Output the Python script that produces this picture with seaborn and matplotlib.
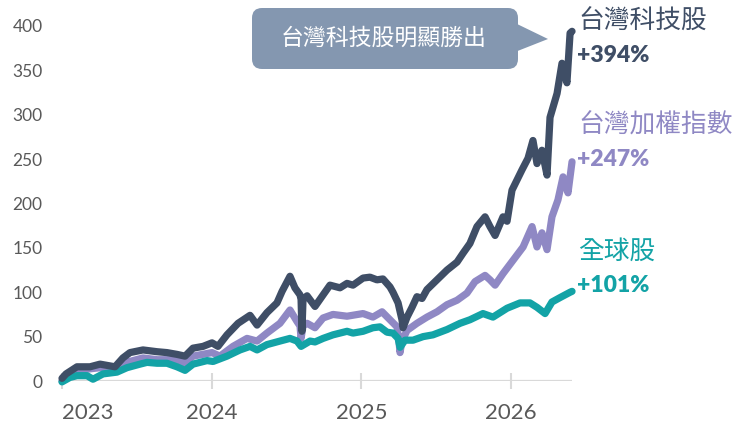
import numpy as np
import pandas as pd
import matplotlib
matplotlib.use("Agg")
import matplotlib.pyplot as plt
import seaborn as sns
from matplotlib.patches import FancyBboxPatch, Polygon
from matplotlib.transforms import IdentityTransform

# ---------------- data (cumulative return, %) ----------------
tech_name = "台灣科技股"
tech_t = [2023.000, 2023.027, 2023.100, 2023.187, 2023.254, 2023.321, 2023.354, 2023.407,
          2023.454, 2023.541, 2023.635, 2023.701, 2023.768, 2023.822, 2023.875, 2023.942,
          2024.002, 2024.042, 2024.102, 2024.176, 2024.256, 2024.303, 2024.369, 2024.436,
          2024.470, 2024.523, 2024.556, 2024.590, 2024.597, 2024.603, 2024.610, 2024.637,
          2024.690, 2024.744, 2024.790, 2024.857, 2024.904, 2024.944, 2025.011, 2025.057,
          2025.104, 2025.144, 2025.191, 2025.211, 2025.245, 2025.271, 2025.278, 2025.305,
          2025.338, 2025.371, 2025.405, 2025.438, 2025.505, 2025.572, 2025.639, 2025.679,
          2025.725, 2025.772, 2025.826, 2025.859, 2025.893, 2025.946, 2025.973, 2026.006,
          2026.073, 2026.113, 2026.146, 2026.173, 2026.206, 2026.240, 2026.260, 2026.307,
          2026.340, 2026.373, 2026.394, 2026.407]
tech_v = [3, 8, 16, 16, 19, 17, 16, 26,
          32, 35, 33, 32, 30, 28, 37, 39,
          43, 39, 52, 65, 74, 63, 77, 88,
          101, 118, 105, 97, 92, 56, 92, 96,
          84, 97, 108, 105, 110, 108, 116, 117,
          114, 115, 106, 100, 88, 69, 60, 72,
          83, 95, 93, 103, 114, 125, 134, 144,
          155, 174, 185, 174, 164, 185, 180, 215,
          238, 251, 271, 245, 260, 232, 297, 324,
          358, 336, 392, 394]

taiex_name = "台灣加權指數"
taiex_t = [2023.000, 2023.027, 2023.100, 2023.254, 2023.341, 2023.407, 2023.541, 2023.635,
           2023.768, 2023.822, 2023.875, 2024.002, 2024.055, 2024.142, 2024.236, 2024.303,
           2024.369, 2024.456, 2024.523, 2024.570, 2024.590, 2024.597, 2024.610, 2024.637,
           2024.690, 2024.744, 2024.810, 2024.904, 2025.011, 2025.077, 2025.138, 2025.191,
           2025.238, 2025.251, 2025.258, 2025.271, 2025.305, 2025.371, 2025.438, 2025.505,
           2025.572, 2025.639, 2025.705, 2025.759, 2025.826, 2025.859, 2025.893, 2025.946,
           2026.013, 2026.080, 2026.140, 2026.173, 2026.206, 2026.240, 2026.273, 2026.313,
           2026.347, 2026.380, 2026.407]
taiex_v = [0, 5, 12, 15, 14, 20, 26, 24,
           24, 20, 28, 32, 28, 39, 48, 45,
           54, 65, 80, 67, 62, 48, 62, 65,
           60, 71, 75, 73, 76, 72, 78, 69,
           61, 45, 32, 45, 57, 65, 72, 78,
           86, 91, 99, 112, 119, 114, 108, 121,
           136, 151, 174, 151, 167, 148, 185, 204,
           230, 212, 247]

global_name = "全球股"
global_t = [2023.000, 2023.053, 2023.100, 2023.167, 2023.207, 2023.274, 2023.367, 2023.434,
            2023.521, 2023.568, 2023.635, 2023.701, 2023.768, 2023.822, 2023.875, 2023.969,
            2024.009, 2024.102, 2024.189, 2024.256, 2024.303, 2024.369, 2024.456, 2024.523,
            2024.570, 2024.597, 2024.657, 2024.690, 2024.744, 2024.810, 2024.904, 2024.944,
            2025.011, 2025.077, 2025.124, 2025.171, 2025.211, 2025.245, 2025.258, 2025.291,
            2025.345, 2025.412, 2025.478, 2025.572, 2025.659, 2025.725, 2025.812, 2025.879,
            2025.973, 2026.060, 2026.126, 2026.173, 2026.227, 2026.273, 2026.327, 2026.394,
            2026.407]
global_v = [-1, 4, 6, 6, 2, 8, 10, 15,
            19, 21, 20, 20, 16, 12, 19, 23,
            22, 28, 35, 39, 35, 41, 45, 48,
            45, 39, 45, 44, 48, 52, 56, 54,
            56, 60, 61, 55, 54, 48, 38, 46,
            46, 50, 52, 58, 65, 69, 76, 72,
            82, 88, 88, 83, 76, 89, 94, 100,
            101]

series_names = [tech_name, taiex_name, global_name]
series_returns = ["+394%", "+247%", "+101%"]
series_colors = ["#3F4E66", "#8F88C4", "#13A3A6"]
year_ticks = [2023, 2024, 2025, 2026]
year_labels = ["2023", "2024", "2025", "2026"]
y_ticks = [0, 50, 100, 150, 200, 250, 300, 350, 400]
callout_text = "台灣科技股明顯勝出"

# ---------------- style ----------------
sns.set_theme(style="white")
plt.rcParams["font.family"] = ["Lato", "Noto Sans CJK TC", "DejaVu Sans"]
plt.rcParams["lines.solid_capstyle"] = "round"
plt.rcParams["lines.solid_joinstyle"] = "round"
CJK = ["Noto Sans CJK TC", "DejaVu Sans"]
GREY = "#595959"

W, H = 738, 426
fig = plt.figure(figsize=(W / 100, H / 100), dpi=100)
ax = fig.add_axes([62 / W, (H - 381) / H, 510 / W, 355 / H])

df = pd.concat([
    pd.DataFrame({"t": tech_t, "v": tech_v, "s": tech_name}),
    pd.DataFrame({"t": taiex_t, "v": taiex_v, "s": taiex_name}),
    pd.DataFrame({"t": global_t, "v": global_v, "s": global_name}),
], ignore_index=True)

palette = dict(zip(series_names, series_colors))
sns.lineplot(data=df, x="t", y="v", hue="s",
             hue_order=[taiex_name, global_name, tech_name],
             palette=palette, linewidth=5.2, legend=False,
             estimator=None, ax=ax)
for ln in ax.lines:
    ln.set_clip_on(False)

ax.set_xlim(2023, 2023 + 510 / 149.7)
ax.set_ylim(0, 400)
for sp in ax.spines.values():
    sp.set_visible(False)
ax.axhline(0, color="#D9D9D9", lw=1.6, zorder=0.5)
ax.set_xlabel("")
ax.set_ylabel("")

ax.set_yticks(y_ticks)
ax.set_yticklabels([str(v) for v in y_ticks])
ax.tick_params(axis="y", left=False, length=0, pad=14, labelsize=12.5, labelcolor=GREY)

ax.set_xticks(year_ticks)
ax.set_xticklabels(year_labels)
ax.tick_params(axis="x", bottom=True, direction="inout", length=12, width=1.5,
               color="#D9D9D9", labelsize=16, labelcolor=GREY, pad=10)
ax.get_xticklabels()[0].set_horizontalalignment("left")

# right-side labels
label_pos = [(22, 56), (126, 160), (252, 285)]
for name, ret, col, (yn, yr) in zip(series_names, series_returns, series_colors, label_pos):
    fig.text(578 / W, 1 - yn / H, name, color=col, fontsize=18.5, va="center",
             ha="left", family=CJK, fontweight="medium")
    fig.text(577 / W, 1 - yr / H, ret, color=col, fontsize=16.5, fontweight="heavy",
             va="center", ha="left")

# callout
box_col = "#8497B0"
box = FancyBboxPatch((252, H - 69), 266, 61, boxstyle="round,pad=0,rounding_size=10",
                     transform=IdentityTransform(), fc=box_col, ec="none")
fig.add_artist(box)
tri = Polygon([(515, H - 23), (548, H - 39), (515, H - 52)], closed=True,
              transform=IdentityTransform(), fc=box_col, ec="none")
fig.add_artist(tri)
fig.text(384 / W, 1 - 38 / H, callout_text, color="white", fontsize=16.5,
         ha="center", va="center", family=CJK, fontweight="medium")

fig.savefig("out.png", dpi=100)
